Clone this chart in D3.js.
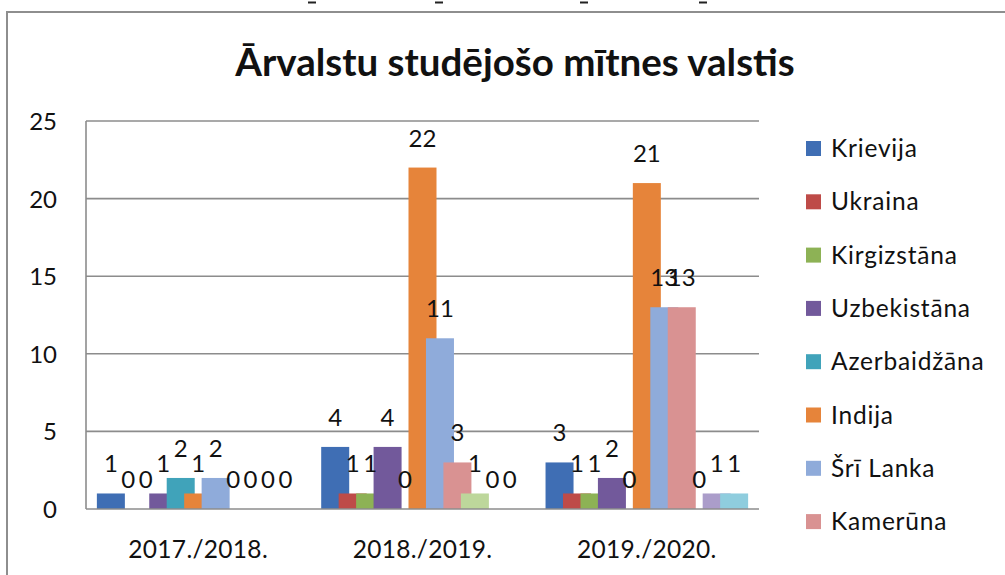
<!DOCTYPE html>
<html>
<head>
<meta charset="utf-8">
<script src="https://cdn.jsdelivr.net/npm/d3@7"></script>
<style>
  html, body { margin: 0; padding: 0; background: #fff; }
  svg { display: block; }
  text { font-family: Lato, "Open Sans", sans-serif; fill: #111; }
</style>
</head>
<body>
<svg id="chart" width="1005" height="575"></svg>
<script>
// ---- data ----
const title = "Ārvalstu studējošo mītnes valstis";
const categories = ["2017./2018.", "2018./2019.", "2019./2020."];
const seriesNames = ["Krievija", "Ukraina", "Kirgizstāna", "Uzbekistāna", "Azerbaidžāna",
                     "Indija", "Šrī Lanka", "Kamerūna", "Sērija 9", "Sērija 10", "Sērija 11"];
const krievija     = [1, 4, 3];
const ukraina      = [0, 1, 1];
const kirgizstana  = [0, 1, 1];
const uzbekistana  = [1, 4, 2];
const azerbaidzana = [2, 0, 0];
const indija       = [1, 22, 21];
const sriLanka     = [2, 11, 13];
const kameruna     = [0, 3, 13];
const serija9      = [0, 1, 0];
const serija10     = [0, 0, 1];
const serija11     = [0, 0, 1];
const yTicks = [0, 5, 10, 15, 20, 25];
const legendCount = 8; // the legend in the picture shows only the first 8 series

const seriesValues = [krievija, ukraina, kirgizstana, uzbekistana, azerbaidzana,
                      indija, sriLanka, kameruna, serija9, serija10, serija11];
const colors = ["#3F6EB4", "#BE4B48", "#8DB255", "#72599B", "#40A3BA", "#E6843A",
                "#8FABDA", "#D99292", "#BDD79B", "#AB9DCA", "#8FCDDE"];

// ---- layout ----
const svg = d3.select("#chart");
const plot = { left: 86, right: 759, top: 121, bottom: 509 };

// outer frame
svg.append("path")
  .attr("d", `M7,575 L7,12 L1005,12`)
  .attr("fill", "none").attr("stroke", "#8e8e8e").attr("stroke-width", 2);
// cut-off marks above the frame
[312, 439, 584, 703].forEach(x => {
  svg.append("rect").attr("x", x - 4).attr("y", 1.5).attr("width", 8).attr("height", 2).attr("fill", "#222");
});

const y = d3.scaleLinear().domain([0, 25]).range([plot.bottom, plot.top]);
const x0 = d3.scaleBand().domain(categories).range([plot.left, plot.right]).padding(0);
const x1 = d3.scalePoint().domain(seriesNames).range([-87.3, 87.3]);
const barW = 28;

// gridlines
svg.append("g").selectAll("line").data(yTicks.filter(d => d > 0)).join("line")
  .attr("x1", plot.left).attr("x2", plot.right)
  .attr("y1", d => y(d)).attr("y2", d => y(d))
  .attr("stroke", "#8c8c8c").attr("stroke-width", 1.6);

// axes lines
svg.append("line").attr("x1", plot.left).attr("x2", plot.left)
  .attr("y1", plot.top).attr("y2", plot.bottom)
  .attr("stroke", "#8c8c8c").attr("stroke-width", 1.6);

// y tick labels
svg.append("g").selectAll("text").data(yTicks).join("text")
  .attr("x", 57).attr("y", d => y(d) + 9)
  .attr("text-anchor", "end").attr("font-size", 24)
  .text(d => d);

// bars
const groups = svg.append("g").selectAll("g").data(seriesNames).join("g")
  .attr("fill", (d, i) => colors[i]);
groups.selectAll("rect").data((name, si) => categories.map((c, ci) => ({ name, c, v: seriesValues[si][ci] })))
  .join("rect")
  .attr("x", d => x0(d.c) + x0.bandwidth() / 2 + x1(d.name) - barW / 2)
  .attr("width", barW)
  .attr("y", d => y(d.v))
  .attr("height", d => y(0) - y(d.v));

svg.append("line").attr("x1", plot.left).attr("x2", plot.right)
  .attr("y1", plot.bottom).attr("y2", plot.bottom)
  .attr("stroke", "#8c8c8c").attr("stroke-width", 1.6);

// data labels
const labels = svg.append("g");
seriesNames.forEach((name, si) => {
  categories.forEach((c, ci) => {
    const v = seriesValues[si][ci];
    labels.append("text")
      .attr("x", x0(c) + x0.bandwidth() / 2 + x1(name))
      .attr("y", y(v) - 21)
      .attr("text-anchor", "middle").attr("font-size", 24)
      .text(v);
  });
});

// category labels
svg.append("g").selectAll("text").data(categories).join("text")
  .attr("x", d => x0(d) + x0.bandwidth() / 2).attr("y", 558)
  .attr("text-anchor", "middle").attr("font-size", 24.5).attr("letter-spacing", 0.3)
  .text(d => d);

// title
svg.append("text").attr("x", 515).attr("y", 76)
  .attr("text-anchor", "middle").attr("font-size", 38.5).attr("font-weight", "bold")
  .text(title);

// legend
const lg = svg.append("g").selectAll("g").data(seriesNames.slice(0, legendCount)).join("g")
  .attr("transform", (d, i) => `translate(806, ${157 + i * 53.3})`);
lg.append("rect").attr("x", 0).attr("y", -16).attr("width", 15).attr("height", 15)
  .attr("fill", (d, i) => colors[i]);
lg.append("text").attr("x", 25).attr("y", 0).attr("font-size", 24.5)
  .attr("letter-spacing", 0.8).text(d => d);
</script>
</body>
</html>
